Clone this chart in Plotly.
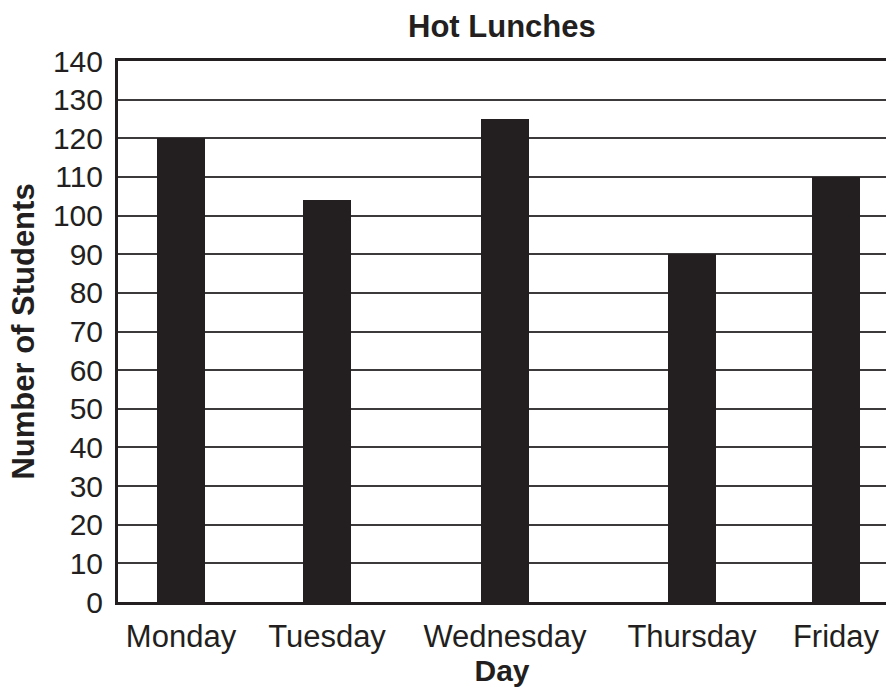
import plotly.graph_objects as go

# Hot lunch counts per school day
days = ["Monday", "Tuesday", "Wednesday", "Thursday", "Friday"]
students = [120, 104, 125, 90, 110]
y_ticks = list(range(0, 141, 10))

# horizontal placement of each day along the x axis (axis units)
day_positions = [63, 209, 387, 574, 718]

ink = "#231f20"
font_family = "Liberation Sans, Arial, Helvetica, sans-serif"

fig = go.Figure(
    go.Bar(
        x=day_positions,
        y=students,
        width=48,
        marker=dict(color=ink, line=dict(width=0)),
        hoverinfo="skip",
    )
)

fig.update_layout(
    width=886,
    height=694,
    margin=dict(l=118, r=0, t=61, b=92),
    paper_bgcolor="white",
    plot_bgcolor="white",
    showlegend=False,
    font=dict(family=font_family, color=ink),
    title=dict(
        text="<b>Hot Lunches</b>",
        x=0.5665,
        xanchor="center",
        y=0.962,
        yanchor="middle",
        font=dict(size=31, family=font_family, color=ink),
    ),
    xaxis=dict(
        range=[0, 768],
        tickvals=day_positions,
        ticktext=days,
        showgrid=False,
        zeroline=False,
        showline=True,
        mirror=True,
        linecolor=ink,
        linewidth=3,
        ticks="",
        ticklabelstandoff=5,
        tickfont=dict(size=31, family=font_family, color=ink),
        title=dict(
            text="<b>Day</b>",
            standoff=7,
            font=dict(size=30, family=font_family, color=ink),
        ),
        fixedrange=True,
    ),
    yaxis=dict(
        range=[0, 140],
        tickvals=y_ticks,
        showgrid=True,
        gridcolor="#3c3a3b",
        gridwidth=2,
        zeroline=False,
        showline=True,
        linecolor=ink,
        linewidth=3,
        ticks="",
        ticklabelstandoff=6,
        tickfont=dict(size=30, family=font_family, color=ink),
        title=dict(
            text="<b>Number of Students</b>",
            standoff=10,
            font=dict(size=31, family=font_family, color=ink),
        ),
        fixedrange=True,
    ),
    bargap=0,
)

fig.write_html("out.html", config={"displayModeBar": False})
